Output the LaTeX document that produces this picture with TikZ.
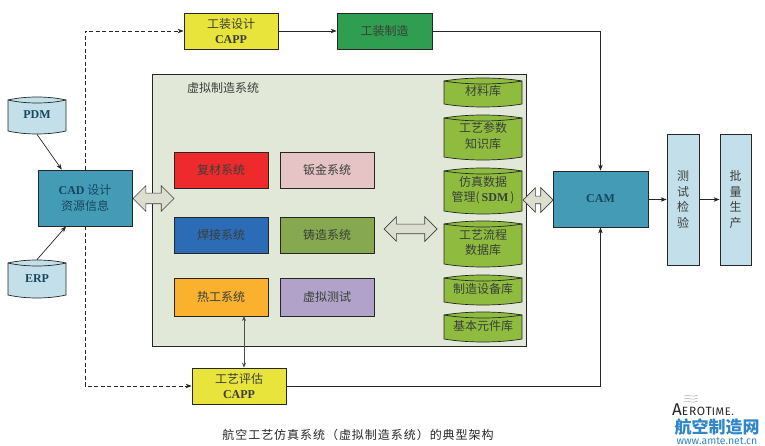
\documentclass[tikz,border=0pt]{standalone}
\usepackage{fontspec}
\setmainfont{Noto Sans CJK SC}
\newfontfamily\latinserif{Liberation Serif}
\newfontfamily\logofont{Fira Sans}
\usetikzlibrary{arrows.meta,shapes.arrows,calc}
\definecolor{inkc}{HTML}{3A3F3A}
\definecolor{inkb}{HTML}{17465E}
\definecolor{cadc}{HTML}{439BB6}
\definecolor{lblue}{HTML}{C3E0EA}
\definecolor{yell}{HTML}{E8E43C}
\definecolor{grn}{HTML}{2F9E50}
\definecolor{panel}{HTML}{E2E8D8}
\definecolor{redc}{HTML}{EE2A2C}
\definecolor{pinkc}{HTML}{E6C4C6}
\definecolor{bluec}{HTML}{2C6CB6}
\definecolor{olive}{HTML}{86A84E}
\definecolor{orangec}{HTML}{F9B12E}
\definecolor{purp}{HTML}{B0A2C8}
\definecolor{cylg}{HTML}{8FBC3F}
\definecolor{arrowc}{HTML}{DCDFD0}
\definecolor{logob}{HTML}{2F86C8}
\newcommand\lat[1]{{\latinserif\bfseries #1}}
\tikzset{
  box/.style={draw=black!85,line width=.8pt,inner sep=0pt,text=inkc,align=center,
    font=\fontsize{12}{15.5}\selectfont},
  conn/.style={line width=.7pt,draw=black!85,-{Stealth[length=6pt,width=4.5pt]}},
  dash conn/.style={conn,dash pattern=on 4pt off 2.5pt},
  fat/.style={double arrow,draw=black!75,fill=arrowc,line width=.7pt,inner xsep=0pt,
    minimum height=#1},
  fat/.default=40pt
}
% name, x0, y0, x1, y1, fill, text
\newcommand\dbcyl[7]{%
  \pgfmathsetmacro\cxa{#2+0.3*(#4-#2)}\pgfmathsetmacro\cxb{#4-0.3*(#4-#2)}%
  \pgfmathsetmacro\cta{#3+3}\pgfmathsetmacro\ctb{#3-1}\pgfmathsetmacro\ctc{#3+7}%
  \pgfmathsetmacro\cba{#5-3}\pgfmathsetmacro\cbb{#5+1}%
  \draw[line width=.7pt,draw=black!85,fill=#6]
    (#2,\cta) .. controls (\cxa,\ctb) and (\cxb,\ctb) .. (#4,\cta)
    -- (#4,\cba) .. controls (\cxb,\cbb) and (\cxa,\cbb) .. (#2,\cba) -- cycle;
  \draw[line width=.7pt,draw=black!85]
    (#2,\cta) .. controls (\cxa,\ctc) and (\cxb,\ctc) .. (#4,\cta);
  \node[box,draw=none,minimum width=#4pt-#2pt,minimum height=#5pt-#3pt]
    (#1) at ({(#2+#4)/2},{(#3+#5)/2}) {\raisebox{-2pt}{\begin{tabular}{@{}c@{}}#7\end{tabular}}};%
}
% name, x0, y0, x1, y1, fill, text
\newcommand\rbox[7]{%
  \node[box,fill=#6,minimum width=#4pt-#2pt,minimum height=#5pt-#3pt]
    (#1) at ({(#2+#4)/2},{(#3+#5)/2}) {#7};%
}
\begin{document}
\begin{tikzpicture}[x=1pt,y=-1pt]
\useasboundingbox (0,0) rectangle (765,446);
% panel
\rbox{panel}{152}{74}{526}{346}{panel}{}
\node[text=inkc,font=\fontsize{12}{15}\selectfont] (paneltitle) at (223,88) {虚拟制造系统};
% top / side boxes
\rbox{capptop}{184}{13}{278}{49}{yell}{工装设计\\\lat{CAPP}}
\rbox{make}{337}{13}{432}{49}{grn}{工装制造}
\rbox{cad}{38}{170}{132}{226}{cadc}{\textcolor{inkb}{\lat{CAD} 设计}\\\textcolor{inkb}{资源信息}}
\rbox{cam}{553}{171}{648}{227}{cadc}{\textcolor{inkb}{\lat{CAM}}}
\rbox{test}{667}{134}{699}{265}{lblue}{测\\试\\检\\验}
\rbox{batch}{720}{134}{751}{265}{lblue}{批\\量\\生\\产}
\rbox{cappbot}{192}{368}{286}{404}{yell}{工艺评估\\\lat{CAPP}}
% systems
\rbox{s1}{174}{152}{268}{188}{redc}{复材系统}
\rbox{s2}{280}{152}{374}{188}{pinkc}{钣金系统}
\rbox{s3}{174}{217}{268}{253}{bluec}{焊接系统}
\rbox{s4}{280}{217}{374}{253}{olive}{铸造系统}
\rbox{s5}{174}{278}{268}{316}{orangec}{热工系统}
\rbox{s6}{280}{278}{374}{316}{purp}{虚拟测试}
% databases
\dbcyl{pdm}{8}{97}{66}{134}{lblue}{\textcolor{inkb}{\lat{PDM}}}
\dbcyl{erp}{8}{260}{66}{298}{lblue}{\textcolor{inkb}{\lat{ERP}}}
\dbcyl{d1}{444}{78}{522}{107}{cylg}{材料库}
\dbcyl{d2}{444}{115}{522}{160}{cylg}{工艺参数\\知识库}
\dbcyl{d3}{444}{168}{522}{214}{cylg}{仿真数据\\管理(\,\lat{SDM}\,)}
\dbcyl{d4}{444}{221}{522}{267}{cylg}{工艺流程\\数据库}
\dbcyl{d5}{444}{275}{522}{305}{cylg}{制造设备库}
\dbcyl{d6}{444}{312}{522}{342}{cylg}{基本元件库}
% connectors
\draw[conn] (pdm.south) -- ($(cad.north west)!.255!(cad.north east)$);
\draw[conn] (erp.north) -- ($(cad.south west)!.3!(cad.south east)$);
\draw[dash conn] (cad.north) |- (capptop.west);
\draw[dash conn] (cad.south) |- (cappbot.west);
\draw[conn] (capptop.east) -- (make.west);
\draw[conn] (make.east) -| (cam.north);
\draw[conn] (cappbot.east) -| (cam.south);
\draw[conn] (cam.east |- test.west) -- (test.west);
\draw[conn] (test.east) -- (batch.west);
\coordinate (vtop) at (244,316);
\draw[line width=.7pt,draw=black!70,{Stealth[length=5pt,width=4pt]}-{Stealth[length=5pt,width=4pt]}]
  (vtop) -- (vtop |- cappbot.north);
% fat double arrows
\node[fat=41pt,inner ysep=5pt,double arrow head extend=7.5pt] (a1) at (153.5,198.5) {};
\node[fat=53pt,inner ysep=4.5pt,double arrow head extend=7.5pt] (a2) at (410.5,229) {};
\node[fat=30pt,inner ysep=3.5pt,double arrow head extend=8.5pt] (a3) at (538,200) {};
% caption
\node[text=black!85,font=\fontsize{12}{14}\selectfont] (caption) at (358,435)
  {\addfontfeature{LetterSpace=8}航空工艺仿真系统（虚拟制造系统）的典型架构};
% logo
\node[anchor=base west,inner sep=0pt,text=black!85] (logoa) at (672,415)
  {\logofont\fontsize{17}{18}\selectfont A\fontsize{12}{12}\selectfont\addfontfeature{LetterSpace=6}EROT\fontsize{11}{11}\selectfont IME.};
\node[anchor=center,inner sep=0pt,text=logob,font=\fontsize{17}{18}\selectfont\bfseries] (logob) at (717,427) {航空制造网};
\node[anchor=center,inner sep=0pt,text=logob,font=\fontsize{10.5}{11}\selectfont] (logoc) at (717,441) {\logofont www.amte.net.cn};
\foreach \yy in {396,399,402}
  \draw[line width=.4pt,draw=black!40] (684,\yy) .. controls (688,\yy-2) and (692,\yy+2) .. (698,\yy-1);
\end{tikzpicture}
\end{document}
